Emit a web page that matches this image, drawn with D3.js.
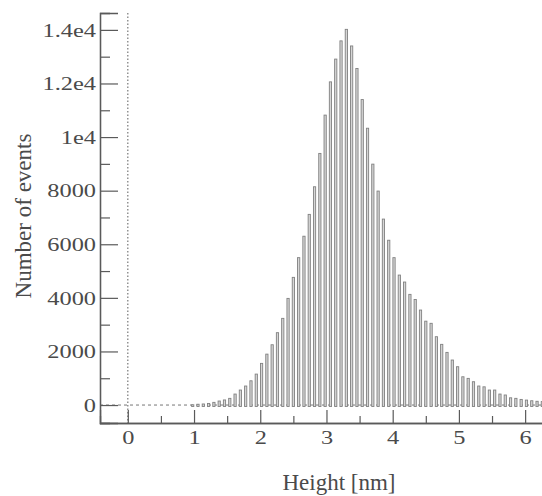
<!DOCTYPE html>
<html lang="en">
<head>
<meta charset="UTF-8">
<title>Height histogram</title>
<style>
  body { margin: 0; background: #fff; }
  svg { display: block; font-family: "Liberation Serif", "Times New Roman", serif; }
  .tick text { fill: #4a4a4a; }
</style>
</head>
<body>
<svg id="chart" width="542" height="496"></svg>
<script src="https://d3js.org/d3.v7.min.js"></script>
<script>
// histogram bins: 0.08 nm wide, first bin centred at 0.82 nm
const binFirstCenter = 0.82;
const binWidth = 0.08;
const counts = [
  0, 0, 10, 30, 40, 60, 100, 150, 190, 250,
  410, 560, 710, 905, 1155, 1555, 1900, 2250, 2700, 3235,
  3980, 4765, 5500, 6300, 7115, 8145, 9390, 10820, 12060, 12910,
  13590, 14020, 13400, 12560, 11400, 10330, 8990, 7985, 6940, 6150,
  5500, 4850, 4590, 4130, 3940, 3545, 3130, 3050, 2550, 2265,
  1965, 1680, 1430, 1055, 995, 870, 710, 680, 560, 560,
  410, 375, 270, 250, 210, 185, 160, 140, 130
];
const xMajorTicks = [0, 1, 2, 3, 4, 5, 6];
const xMinorTicks = [0.5, 1.5, 2.5, 3.5, 4.5, 5.5];
const yMajorTicks = [0, 2000, 4000, 6000, 8000, 10000, 12000, 14000];
const yMinorTicks = [1000, 3000, 5000, 7000, 9000, 11000, 13000];
const yTickLabels = ["0", "2000", "4000", "6000", "8000", "1e4", "1.2e4", "1.4e4"];

const svg = d3.select("#chart");
const plotLeft = 100, plotRight = 545, plotTop = 13, plotBottom = 423;
const ink = "#5a5a5a";
const serif = '"Liberation Serif", "Times New Roman", serif';
const stretch = 1.25;

const x = d3.scaleLinear().domain([-0.42, 6.3]).range([plotLeft, plotRight]);
const y = d3.scaleLinear().domain([-670, 14630]).range([plotBottom, plotTop]);

// reference lines at x = 0 and y = 0
svg.append("line")
  .attr("x1", x(0)).attr("x2", x(0))
  .attr("y1", plotTop).attr("y2", plotBottom)
  .attr("stroke", "#777").attr("stroke-width", 1.2)
  .attr("stroke-dasharray", "1.5,2");
svg.append("line")
  .attr("x1", plotLeft).attr("x2", plotRight)
  .attr("y1", y(0)).attr("y2", y(0))
  .attr("stroke", "#777").attr("stroke-width", 1)
  .attr("stroke-dasharray", "3,3");

// bars (narrow outlined rectangles)
const bins = counts.map((c, i) => ({ center: binFirstCenter + i * binWidth, count: c }));
svg.append("g")
  .selectAll("rect")
  .data(bins.filter(d => d.count > 0))
  .join("rect")
  .attr("x", d => x(d.center - binWidth * 0.21))
  .attr("width", d => x(d.center + binWidth * 0.21) - x(d.center - binWidth * 0.21))
  .attr("y", d => y(d.count))
  .attr("height", d => y(0) - y(d.count) + 1.5)
  .attr("fill", "#d6d6d6")
  .attr("stroke", "#808080")
  .attr("stroke-width", 0.9);

// y axis
const yAxis = svg.append("g")
  .attr("transform", `translate(${plotLeft},0)`)
  .call(d3.axisLeft(y).tickValues(yMajorTicks).tickSize(-18).tickPadding(4)
    .tickFormat((d, i) => yTickLabels[i]));
yAxis.attr("font-family", serif).attr("font-size", 19.5);
yAxis.selectAll(".tick text")
  .attr("x", -4 / stretch)
  .attr("transform", `scale(${stretch},1)`);
svg.append("g")
  .attr("transform", `translate(${plotLeft},0)`)
  .call(d3.axisLeft(y).tickValues(yMinorTicks).tickSize(-10).tickFormat(""));

// x axis
const xAxis = svg.append("g")
  .attr("transform", `translate(0,${plotBottom})`)
  .call(d3.axisBottom(x).tickValues(xMajorTicks).tickSize(-13).tickPadding(7)
    .tickFormat(d3.format("d")));
xAxis.attr("font-family", serif).attr("font-size", 19.5);
xAxis.selectAll(".tick text")
  .attr("transform", `scale(${stretch},1)`);
svg.append("g")
  .attr("transform", `translate(0,${plotBottom})`)
  .call(d3.axisBottom(x).tickValues(xMinorTicks).tickSize(-7).tickFormat(""));

svg.selectAll(".domain").attr("stroke", ink).attr("stroke-width", 1.3);
svg.selectAll(".tick line").attr("stroke", ink).attr("stroke-width", 1.2);

// axis titles
svg.append("text")
  .attr("x", 339).attr("y", 490)
  .attr("text-anchor", "middle")
  .attr("font-size", 23)
  .attr("fill", "#4a4a4a")
  .text("Height [nm]");
svg.append("text")
  .attr("transform", "translate(31,216) rotate(-90)")
  .attr("text-anchor", "middle")
  .attr("font-size", 23)
  .attr("fill", "#4a4a4a")
  .text("Number of events");
</script>
</body>
</html>
